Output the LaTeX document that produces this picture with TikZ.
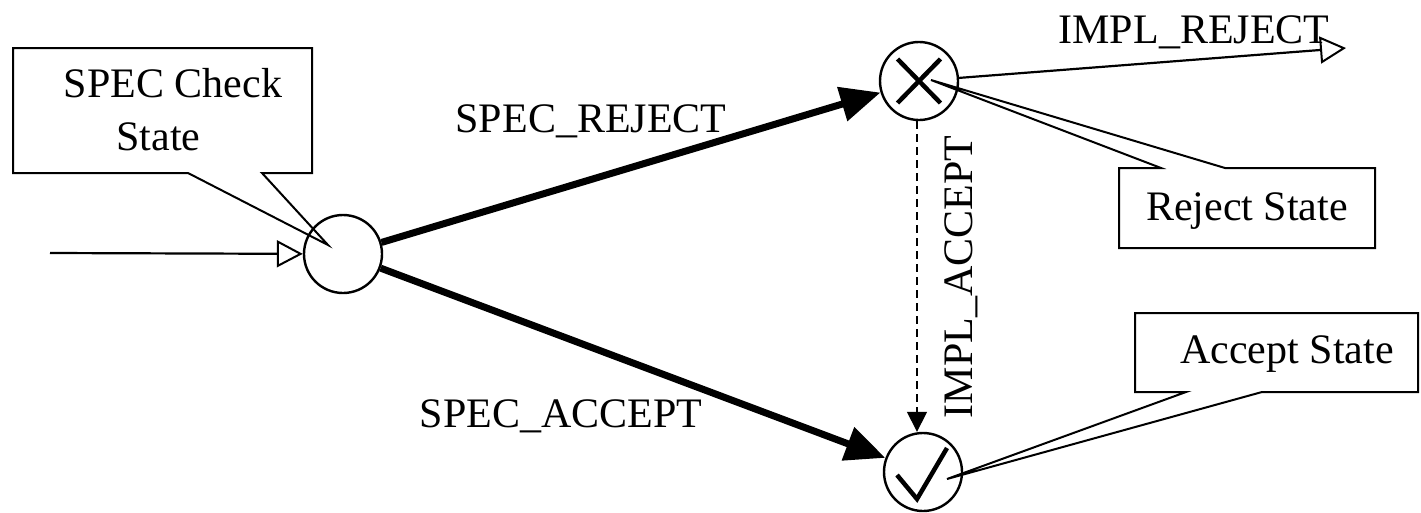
\documentclass[tikz,border=0pt]{standalone}
\usepackage{fontspec}
\setmainfont{Liberation Serif}
\usetikzlibrary{arrows.meta,calc}

\tikzset{
  statecirc/.style={circle, draw, line width=2.4pt, minimum size=78pt, inner sep=0pt},
  lbl/.style={inner sep=0pt, anchor=base, font=\fontsize{42}{48}\selectfont},
  callout/.style={draw, line width=2pt, line join=miter},
  boldedge/.style={line width=7pt, -{Triangle[length=40pt, width=34pt]}},
  thinedge/.style={line width=2.2pt, -{Triangle[open, length=26pt, width=27pt, line width=2pt]}},
  dashedge/.style={line width=1.6pt, dash pattern=on 8pt off 5pt, -{Triangle[length=20pt, width=20pt]}},
  markstroke/.style={line width=4.5pt, line cap=butt, line join=miter}
}

\begin{document}
\begin{tikzpicture}[x=1pt, y=-1pt]
  \useasboundingbox (0,0) rectangle (1421,512);

  % callout shapes
  \draw[callout] (13,48) -- (312,48) -- (312,173) -- (262,173) -- (328,245)
    -- (188,173) -- (13,173) -- cycle;
  \draw[callout] (1119,168) -- (1161,168) -- (931,80) -- (1225,168) -- (1375,168)
    -- (1375,248) -- (1119,248) -- cycle;
  \draw[callout] (1135,313) -- (1418,313) -- (1418,392) -- (1262,392) -- (947,479)
    -- (1186,392) -- (1135,392) -- cycle;

  % states
  \node[statecirc] (start) at (343,254) {};
  \node[statecirc] (rej) at (919,81) {};
  \node[statecirc] (acc) at (923,472) {};

  % marks inside the final states
  \draw[markstroke] ($(rej)+(-21.5,-22)$) -- ($(rej)+(21.5,22)$);
  \draw[markstroke] ($(rej)+(21.5,-22)$) -- ($(rej)+(-21.5,22)$);
  \draw[markstroke] ($(acc)+(-26,3)$) -- ($(acc)+(-6,27)$) -- ($(acc)+(24,-24)$);

  % transitions
  \coordinate (in) at (50,253);
  \coordinate (rejout) at (1346,48);
  \draw[thinedge] (in) -- (start);
  \draw[boldedge] (start) -- (rej);
  \draw[boldedge] (start) -- (acc);
  \draw[thinedge] (rej) -- (rejout);
  \draw[dashedge] ($(rej.south)+(-2,0)$) -- ($(acc.north)+(-6,0)$);

  % labels
  \node[lbl] (lcheck1) at (173,97) {SPEC Check};
  \node[lbl] (lcheck2) at (158.5,150) {State};
  \node[lbl] (lsrej) at (591,132) {SPEC\_REJECT};
  \node[lbl] (lsacc) at (561,427) {SPEC\_ACCEPT};
  \node[lbl] (lirej) at (1194,43) {IMPL\_REJECT};
  \node[lbl, rotate=90] (liacc) at (972,277) {IMPL\_ACCEPT};
  \node[lbl] (lrejst) at (1247,220) {Reject State};
  \node[lbl] (laccst) at (1287,363) {Accept State};
\end{tikzpicture}
\end{document}
